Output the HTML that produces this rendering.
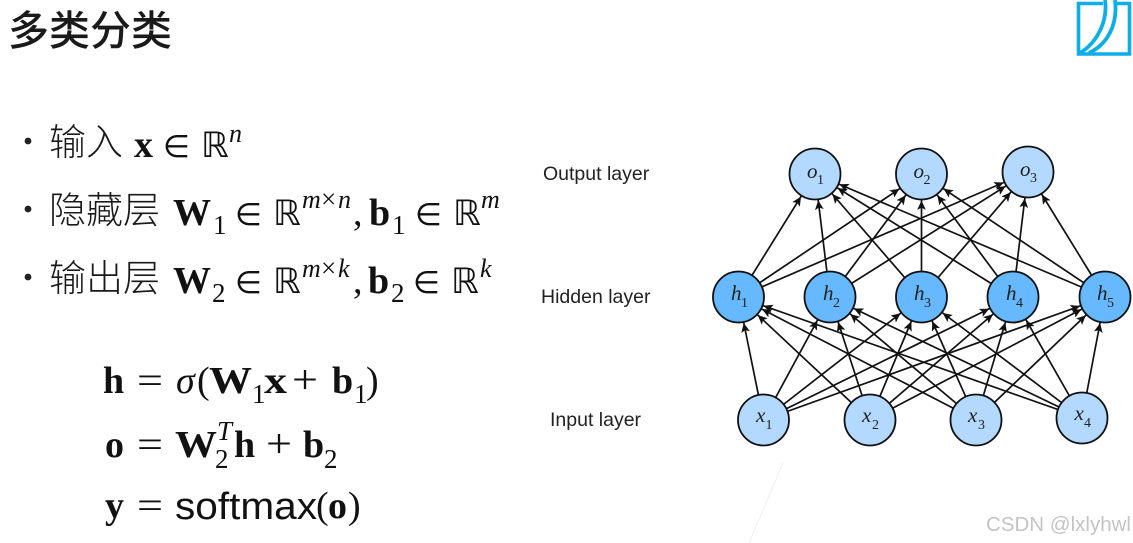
<!DOCTYPE html>
<html>
<head>
<meta charset="utf-8">
<style>
html,body{margin:0;padding:0;background:#fff;width:1133px;height:543px;overflow:hidden}
svg{display:block}
.cjk{font-family:"Liberation Sans","Noto Sans CJK SC",sans-serif;fill:#1a1a1a}
.m{font-family:"Liberation Serif",serif;fill:#111}
.b{font-weight:bold}
.i{font-style:italic}
.sym{font-family:"DejaVu Sans",sans-serif;fill:#111}
.l{font-family:"Liberation Sans",sans-serif;font-size:19.5px;fill:#222}
.n{font-family:"Liberation Serif",serif;font-style:italic;font-size:21px;fill:#222}
.s{font-family:"Liberation Serif",serif;font-size:14px;fill:#222}
.edges line{stroke:#111;stroke-width:1.7;marker-end:url(#a)}
.nodes circle{stroke:#111;stroke-width:1.8}
</style>
</head>
<body>
<svg width="1133" height="543" viewBox="0 0 1133 543" xmlns="http://www.w3.org/2000/svg">
<defs>
<marker id="a" markerUnits="userSpaceOnUse" markerWidth="70" markerHeight="20" viewBox="-35 -10 70 20" refX="27" refY="0" orient="auto" overflow="visible">
<path d="M0 0L-8.5 -4L-6.5 0L-8.5 4Z" fill="#111" stroke="#111" stroke-width=".4"/>
</marker>
</defs>

<!-- Title -->
<text x="8" y="45" class="cjk" style="font-size:41px;font-weight:500">多类分类</text>

<!-- Bullets -->
<circle cx="28" cy="141" r="3.4" fill="#222"/>
<circle cx="28" cy="209" r="3.4" fill="#222"/>
<circle cx="28" cy="277" r="3.4" fill="#222"/>
<text x="49" y="155" class="cjk" style="font-size:37px;font-weight:300">输入</text>
<text x="49" y="223" class="cjk" style="font-size:37px;font-weight:300">隐藏层</text>
<text x="49" y="291" class="cjk" style="font-size:37px;font-weight:300">输出层</text>

<!-- line 1 -->
<text x="134" y="157" class="m b" font-size="38">x</text>
<text x="163" y="157" class="sym" font-size="31">∈</text>
<text x="201" y="157" class="sym" font-size="35">ℝ</text>
<text x="229" y="142" class="m i" font-size="26">n</text>

<!-- line 2 -->
<text x="173" y="225" class="m b" font-size="38">W</text>
<text x="213" y="234" class="m" font-size="27">1</text>
<text x="235" y="225" class="sym" font-size="31">∈</text>
<text x="273" y="225" class="sym" font-size="35">ℝ</text>
<text x="302" y="208" class="m i" font-size="26">m</text>
<text x="321" y="208" class="m" font-size="27">×</text>
<text x="338" y="208" class="m i" font-size="26">n</text>
<text x="353" y="225" class="m" font-size="38">,</text>
<text x="369" y="225" class="m b" font-size="38">b</text>
<text x="392" y="234" class="m" font-size="27">1</text>
<text x="415" y="225" class="sym" font-size="31">∈</text>
<text x="453" y="225" class="sym" font-size="35">ℝ</text>
<text x="481" y="208" class="m i" font-size="26">m</text>

<!-- line 3 -->
<text x="173" y="293" class="m b" font-size="38">W</text>
<text x="212" y="302" class="m" font-size="27">2</text>
<text x="235" y="293" class="sym" font-size="31">∈</text>
<text x="273" y="293" class="sym" font-size="35">ℝ</text>
<text x="302" y="277" class="m i" font-size="26">m</text>
<text x="321" y="277" class="m" font-size="27">×</text>
<text x="338" y="277" class="m i" font-size="26">k</text>
<text x="353" y="293" class="m" font-size="38">,</text>
<text x="368" y="293" class="m b" font-size="38">b</text>
<text x="391" y="302" class="m" font-size="27">2</text>
<text x="413" y="293" class="sym" font-size="31">∈</text>
<text x="451" y="293" class="sym" font-size="35">ℝ</text>
<text x="480" y="277" class="m i" font-size="26">k</text>

<!-- equation 1 -->
<text x="103" y="393" class="m b" font-size="38">h</text>
<text x="137" y="393" class="m" font-size="38" textLength="26" lengthAdjust="spacingAndGlyphs">=</text>
<text x="176" y="393" class="m i" font-size="38">σ</text>
<text x="197" y="393" class="m" font-size="38">(</text>
<text x="209" y="393" class="m b" font-size="38" textLength="43" lengthAdjust="spacingAndGlyphs">W</text>
<text x="252" y="403" class="m" font-size="27">1</text>
<text x="264" y="393" class="m b" font-size="38" textLength="23" lengthAdjust="spacingAndGlyphs">x</text>
<text x="292" y="393" class="m" font-size="40" textLength="26" lengthAdjust="spacingAndGlyphs">+</text>
<text x="332" y="393" class="m b" font-size="38">b</text>
<text x="354" y="403" class="m" font-size="27">1</text>
<text x="366" y="393" class="m" font-size="38">)</text>

<!-- equation 2 -->
<text x="105" y="457" class="m b" font-size="38">o</text>
<text x="137" y="457" class="m" font-size="38" textLength="26" lengthAdjust="spacingAndGlyphs">=</text>
<text x="175" y="457" class="m b" font-size="38" textLength="42" lengthAdjust="spacingAndGlyphs">W</text>
<text x="217" y="440" class="m i" font-size="27">T</text>
<text x="215" y="468" class="m" font-size="27">2</text>
<text x="234" y="457" class="m b" font-size="38">h</text>
<text x="266" y="457" class="m" font-size="40" textLength="26" lengthAdjust="spacingAndGlyphs">+</text>
<text x="303" y="457" class="m b" font-size="38">b</text>
<text x="324" y="468" class="m" font-size="27">2</text>

<!-- equation 3 -->
<text x="105" y="518" class="m b" font-size="38">y</text>
<text x="137" y="518" class="m" font-size="38" textLength="26" lengthAdjust="spacingAndGlyphs">=</text>
<text x="175" y="519" font-family="Liberation Sans, sans-serif" font-size="38" fill="#111" textLength="142" lengthAdjust="spacingAndGlyphs">softmax</text>
<text x="316" y="518" class="m" font-size="38">(</text>
<text x="328" y="518" class="m b" font-size="38">o</text>
<text x="348" y="518" class="m" font-size="38">)</text>

<!-- layer labels -->
<text x="543" y="180" class="l">Output layer</text>
<text x="541" y="303" class="l">Hidden layer</text>
<text x="550" y="426" class="l">Input layer</text>

<!-- edges: drawn centre to centre, circles on top, marker offset puts tips at node rims -->
<g class="edges">
<line x1="738.5" y1="297" x2="815" y2="174"/>
<line x1="738.5" y1="297" x2="921.5" y2="174"/>
<line x1="738.5" y1="297" x2="1028" y2="172"/>
<line x1="830" y1="297" x2="815" y2="174"/>
<line x1="830" y1="297" x2="921.5" y2="174"/>
<line x1="830" y1="297" x2="1028" y2="172"/>
<line x1="921.5" y1="297" x2="815" y2="174"/>
<line x1="921.5" y1="297" x2="921.5" y2="174"/>
<line x1="921.5" y1="297" x2="1028" y2="172"/>
<line x1="1013" y1="297" x2="815" y2="174"/>
<line x1="1013" y1="297" x2="921.5" y2="174"/>
<line x1="1013" y1="297" x2="1028" y2="172"/>
<line x1="1105" y1="297" x2="815" y2="174"/>
<line x1="1105" y1="297" x2="921.5" y2="174"/>
<line x1="1105" y1="297" x2="1028" y2="172"/>

<line x1="763.5" y1="420" x2="738.5" y2="297"/>
<line x1="763.5" y1="420" x2="830" y2="297"/>
<line x1="763.5" y1="420" x2="921.5" y2="297"/>
<line x1="763.5" y1="420" x2="1013" y2="297"/>
<line x1="763.5" y1="420" x2="1105" y2="297"/>
<line x1="870" y1="420" x2="738.5" y2="297"/>
<line x1="870" y1="420" x2="830" y2="297"/>
<line x1="870" y1="420" x2="921.5" y2="297"/>
<line x1="870" y1="420" x2="1013" y2="297"/>
<line x1="870" y1="420" x2="1105" y2="297"/>
<line x1="976" y1="420" x2="738.5" y2="297"/>
<line x1="976" y1="420" x2="830" y2="297"/>
<line x1="976" y1="420" x2="921.5" y2="297"/>
<line x1="976" y1="420" x2="1013" y2="297"/>
<line x1="976" y1="420" x2="1105" y2="297"/>
<line x1="1082" y1="418" x2="738.5" y2="297"/>
<line x1="1082" y1="418" x2="830" y2="297"/>
<line x1="1082" y1="418" x2="921.5" y2="297"/>
<line x1="1082" y1="418" x2="1013" y2="297"/>
<line x1="1082" y1="418" x2="1105" y2="297"/>
</g>

<!-- nodes -->
<g class="nodes">
<circle cx="815" cy="174" r="25.5" fill="#b3d9ff"/>
<circle cx="921.5" cy="174" r="25.5" fill="#b3d9ff"/>
<circle cx="1028" cy="172" r="25.5" fill="#b3d9ff"/>
<circle cx="738.5" cy="297" r="25.5" fill="#66b8ff"/>
<circle cx="830" cy="297" r="25.5" fill="#66b8ff"/>
<circle cx="921.5" cy="297" r="25.5" fill="#66b8ff"/>
<circle cx="1013" cy="297" r="25.5" fill="#66b8ff"/>
<circle cx="1105" cy="297" r="25.5" fill="#66b8ff"/>
<circle cx="763.5" cy="420" r="25.5" fill="#b3d9ff"/>
<circle cx="870" cy="420" r="25.5" fill="#b3d9ff"/>
<circle cx="976" cy="420" r="25.5" fill="#b3d9ff"/>
<circle cx="1082" cy="418" r="25.5" fill="#b3d9ff"/>
</g>

<!-- node labels -->
<text x="807" y="178" class="n">o</text><text x="817" y="184" class="s">1</text>
<text x="913.5" y="178" class="n">o</text><text x="923.5" y="184" class="s">2</text>
<text x="1020" y="176" class="n">o</text><text x="1030" y="182" class="s">3</text>
<text x="731" y="300" class="n">h</text><text x="741" y="307" class="s">1</text>
<text x="823" y="300" class="n">h</text><text x="833" y="307" class="s">2</text>
<text x="914" y="300" class="n">h</text><text x="924" y="307" class="s">3</text>
<text x="1006" y="300" class="n">h</text><text x="1016" y="307" class="s">4</text>
<text x="1097" y="300" class="n">h</text><text x="1107" y="307" class="s">5</text>
<text x="756" y="422" class="n">x</text><text x="765.5" y="429" class="s">1</text>
<text x="862" y="422" class="n">x</text><text x="872" y="429" class="s">2</text>
<text x="968" y="422" class="n">x</text><text x="978" y="429" class="s">3</text>
<text x="1074.5" y="420" class="n">x</text><text x="1084" y="427" class="s">4</text>

<!-- faint line -->
<line x1="783" y1="463" x2="749" y2="543" stroke="#efefef" stroke-width="1"/>

<!-- watermark -->
<text x="986" y="531" font-family="Liberation Sans, sans-serif" font-size="20.5" fill="#c4c4c4">CSDN @lxlyhwl</text>

<!-- logo -->
<g fill="none" stroke="#0dade8">
<path d="M1103 3.5H1078.5V54H1129.5V3.5H1117" stroke-width="3.6"/>
<path d="M1105 0C1108 20 1098 42 1080 53" stroke-width="3.8"/>
<path d="M1115 0C1118 24 1108 44 1089 53" stroke-width="3.8"/>
</g>
</svg>
</body>
</html>
